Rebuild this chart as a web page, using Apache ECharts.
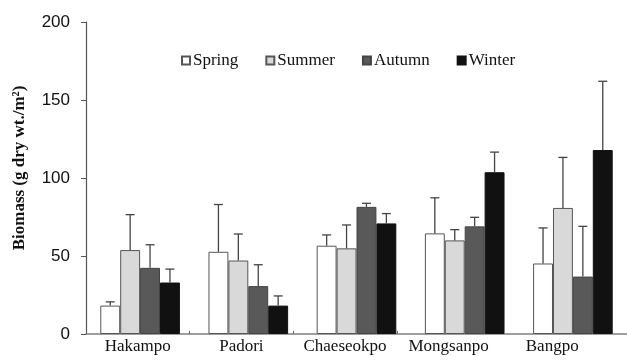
<!DOCTYPE html>
<html>
<head>
<meta charset="utf-8">
<script src="https://cdn.jsdelivr.net/npm/echarts@6/dist/echarts.min.js"></script>
<style>html,body{margin:0;padding:0;background:#fff}#c{width:627px;height:363px}</style>
</head>
<body>
<div id="c"></div>
<script>
const categories = ['Hakampo', 'Padori', 'Chaeseokpo', 'Mongsanpo', 'Bangpo'];
const seasons = ['Spring', 'Summer', 'Autumn', 'Winter'];
const spring = [18.2, 52.7, 56.6, 64.5, 45.2];
const summer = [53.8, 47.1, 54.9, 60.0, 80.8];
const autumn = [42.4, 30.7, 81.5, 69.0, 36.8];
const winter = [33.0, 18.2, 70.9, 103.7, 117.9];
const springErr = [2.4, 30.3, 6.9, 22.8, 22.8];
const summerErr = [22.7, 17.0, 15.0, 6.9, 32.4];
const autumnErr = [14.8, 13.7, 2.3, 5.8, 32.2];
const winterErr = [8.6, 6.2, 6.3, 12.9, 44.1];
const yTicks = [0, 50, 100, 150, 200];

const values = [spring, summer, autumn, winter];
const errs = [springErr, summerErr, autumnErr, winterErr];
const fills = ['#ffffff', '#d9d9d9', '#595959', '#111111'];
const borders = ['#555555', '#555555', '#444444', '#111111'];
const BW = 0.184;
const serif = '"Liberation Serif", "Times New Roman", serif';

const series = [];
values.forEach((vals, k) => {
  series.push({
    name: seasons[k], type: 'bar', xAxisIndex: 0, yAxisIndex: 0,
    barWidth: (BW * 100) + '%', barGap: '0%',
    data: vals,
    itemStyle: { color: fills[k], borderColor: borders[k], borderWidth: 1 },
    z: 2
  });
});
values.forEach((vals, k) => {
  series.push({
    type: 'custom', xAxisIndex: 0, yAxisIndex: 0, z: 3,
    data: vals.map((v, i) => [i, v, errs[k][i]]),
    encode: { x: 0, y: 1 },
    renderItem: function (params, api) {
      const cat = api.value(0), v = api.value(1), e = api.value(2);
      const p0 = api.coord([cat, v]);
      const p1 = api.coord([cat, v + e]);
      const band = api.size([1, 0])[0];
      const x = p0[0] + (k - 1.5) * band * BW;
      const st = { stroke: '#444', lineWidth: 1.3 };
      return { type: 'group', children: [
        { type: 'line', shape: { x1: x, y1: p0[1], x2: x, y2: p1[1] }, style: st },
        { type: 'line', shape: { x1: x - 4.5, y1: p1[1], x2: x + 4.5, y2: p1[1] }, style: st }
      ]};
    }
  });
});

const chart = echarts.init(document.getElementById('c'));
chart.setOption({
  animation: false,
  backgroundColor: '#fff',
  grid: [
    { left: 86, right: -3, top: 22, bottom: 29 },
    { left: 86, width: 518, top: 22, bottom: 29 }
  ],
  legend: {
    data: seasons, left: 176, top: 47, itemWidth: 8, itemHeight: 8, itemGap: 27,
    icon: 'rect',
    textStyle: { fontFamily: serif, fontSize: 17, color: '#111', padding: [0, 0, 0, -2] }
  },
  xAxis: [
    { type: 'category', gridIndex: 0, data: categories,
      axisLine: { show: true, lineStyle: { color: '#808080', width: 1.5 } },
      axisTick: { show: false }, axisLabel: { show: false }, splitLine: { show: false } },
    { type: 'category', gridIndex: 1, data: categories,
      axisLine: { show: false },
      axisTick: { show: true, inside: true, length: 3, lineStyle: { color: '#666' } },
      axisLabel: { interval: 0, fontFamily: serif, fontSize: 17, color: '#111', margin: 4 },
      splitLine: { show: false } }
  ],
  yAxis: [
    { type: 'value', gridIndex: 0, min: yTicks[0], max: yTicks[yTicks.length - 1], interval: 50,
      name: 'Biomass (g dry wt./m\u00B2)', nameLocation: 'middle', nameGap: 58,
      nameTextStyle: { fontFamily: serif, fontWeight: 'bold', fontSize: 17, color: '#111', padding: [0, 0, 0, 20] },
      axisLine: { show: true, lineStyle: { color: '#555', width: 1.2 } },
      axisTick: { show: true, length: 5, lineStyle: { color: '#555' } },
      axisLabel: { fontFamily: 'Liberation Sans, Arial, sans-serif', fontSize: 17, color: '#111', margin: 16 },
      splitLine: { show: false } },
    { type: 'value', gridIndex: 1, min: 0, max: 200, show: false, splitLine: { show: false } }
  ],
  series: series
});
</script>
</body>
</html>
